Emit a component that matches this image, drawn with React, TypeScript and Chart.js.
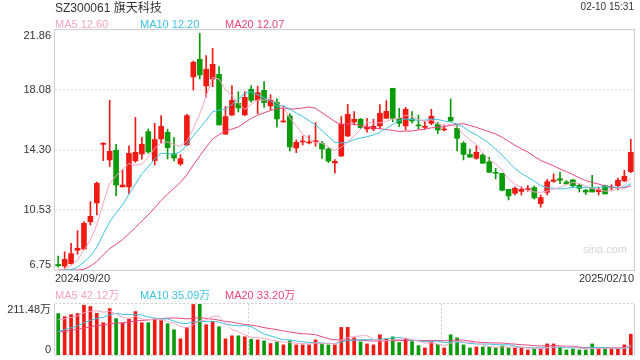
import React, { useEffect, useRef } from "react";
import { Chart, registerables } from "chart.js";

Chart.register(...registerables);

// ---------- data ----------
const dates = [
  "2024/09/20", "2024/09/23", "2024/09/24", "2024/09/25", "2024/09/26", "2024/09/27", "2024/09/30",
  "2024/10/08", "2024/10/09", "2024/10/10", "2024/10/11", "2024/10/14", "2024/10/15", "2024/10/16",
  "2024/10/17", "2024/10/18", "2024/10/21", "2024/10/22", "2024/10/23", "2024/10/24", "2024/10/25",
  "2024/10/28", "2024/10/29", "2024/10/30", "2024/10/31",
  "2024/11/01", "2024/11/04", "2024/11/05", "2024/11/06", "2024/11/07", "2024/11/08", "2024/11/11",
  "2024/11/12", "2024/11/13", "2024/11/14", "2024/11/15", "2024/11/18", "2024/11/19", "2024/11/20",
  "2024/11/21", "2024/11/22", "2024/11/25", "2024/11/26", "2024/11/27", "2024/11/28", "2024/11/29",
  "2024/12/02", "2024/12/03", "2024/12/04", "2024/12/05", "2024/12/06", "2024/12/09", "2024/12/10",
  "2024/12/11", "2024/12/12", "2024/12/13", "2024/12/16", "2024/12/17", "2024/12/18", "2024/12/19",
  "2024/12/20", "2024/12/23", "2024/12/24", "2024/12/25", "2024/12/26", "2024/12/27", "2024/12/30",
  "2024/12/31",
  "2025/01/02", "2025/01/03", "2025/01/06", "2025/01/07", "2025/01/08", "2025/01/09", "2025/01/10",
  "2025/01/13", "2025/01/14", "2025/01/15", "2025/01/16", "2025/01/17", "2025/01/20", "2025/01/21",
  "2025/01/22", "2025/01/23", "2025/01/24", "2025/01/27",
  "2025/02/05", "2025/02/06", "2025/02/07", "2025/02/10",
];

const opens = [
  7.10, 7.00, 7.15, 7.99, 8.07, 9.78, 10.97, 14.66, 13.68, 14.29,
  11.98, 11.98, 13.62, 14.05, 15.46, 13.64, 15.00, 15.42, 14.08, 13.43,
  14.62, 18.90, 20.02, 18.34, 18.78, 19.07, 15.31, 16.51, 17.25, 16.51,
  18.13, 17.45, 18.06, 17.08, 17.31, 16.07, 16.45, 14.43, 14.81, 14.75,
  14.81, 14.73, 14.37, 13.49, 13.93, 15.19, 16.07, 16.24, 15.63, 15.63,
  15.82, 16.30, 18.19, 16.30, 15.82, 16.26, 15.86, 15.73, 15.99, 15.94,
  15.57, 16.36, 15.67, 14.73, 14.03, 13.78, 13.99, 13.57, 12.90, 12.84,
  11.83, 11.58, 11.70, 11.81, 11.94, 10.93, 11.64, 12.33, 12.50, 12.29,
  12.42, 12.08, 11.77, 11.89, 11.68, 12.06, 11.92, 12.06, 12.36, 12.94,
];
const highs = [
  7.63, 7.89, 8.43, 9.23, 9.80, 11.05, 12.29, 14.77, 17.43, 14.66,
  13.05, 14.56, 16.36, 15.10, 15.63, 15.99, 16.47, 15.61, 15.08, 14.01,
  16.55, 19.91, 21.65, 20.25, 20.71, 19.55, 17.04, 18.36, 17.98, 17.98,
  18.36, 18.32, 18.61, 17.79, 17.52, 17.06, 16.59, 14.94, 15.19, 15.21,
  16.03, 14.85, 14.45, 13.70, 16.41, 17.18, 16.72, 16.30, 16.30, 16.24,
  17.16, 17.41, 18.19, 16.93, 16.99, 16.72, 16.51, 16.09, 16.87, 16.05,
  15.88, 17.52, 15.84, 14.83, 14.37, 14.58, 14.08, 13.85, 13.15, 12.84,
  11.83, 11.98, 11.98, 12.06, 12.04, 11.47, 12.46, 12.80, 12.92, 12.38,
  12.46, 12.17, 11.83, 12.71, 11.94, 12.10, 12.12, 12.54, 13.03, 14.98,
];
const lows = [
  6.93, 6.86, 7.11, 7.74, 8.03, 9.59, 10.22, 13.64, 13.26, 11.43,
  11.98, 11.54, 13.53, 13.72, 14.10, 13.36, 14.73, 13.74, 13.62, 13.34,
  14.58, 18.08, 18.78, 17.64, 18.29, 15.88, 15.27, 16.47, 16.70, 16.47,
  17.31, 16.59, 16.99, 16.83, 15.75, 16.05, 14.24, 14.14, 14.62, 14.68,
  14.54, 13.78, 13.51, 12.84, 13.89, 15.15, 15.88, 15.67, 15.42, 15.52,
  15.63, 16.30, 16.09, 15.78, 15.57, 15.99, 15.63, 15.61, 15.90, 15.34,
  15.50, 16.09, 14.24, 13.68, 13.85, 13.72, 13.47, 12.90, 12.48, 11.73,
  11.16, 11.47, 11.47, 11.70, 11.22, 10.70, 11.47, 12.27, 12.19, 12.17,
  11.94, 11.66, 11.50, 11.66, 11.47, 11.54, 11.79, 11.81, 12.31, 12.88,
];
const closes = [
  7.02, 7.42, 7.78, 8.12, 9.69, 10.13, 12.21, 14.73, 14.22, 12.10,
  12.10, 14.10, 14.16, 14.66, 14.18, 14.96, 15.80, 14.45, 13.80, 13.76,
  16.47, 19.83, 19.03, 19.39, 19.70, 15.88, 16.41, 17.43, 16.95, 17.62,
  17.43, 17.92, 17.29, 17.43, 16.26, 16.11, 14.50, 14.79, 14.87, 14.79,
  14.89, 14.37, 13.61, 13.59, 15.94, 16.55, 16.24, 15.71, 15.75, 15.80,
  16.62, 16.74, 16.30, 15.99, 16.87, 16.13, 15.82, 15.80, 16.43, 15.57,
  15.63, 16.15, 15.04, 14.03, 13.85, 14.16, 13.47, 12.90, 12.84, 11.77,
  11.41, 11.89, 11.83, 11.87, 11.29, 11.31, 12.31, 12.42, 12.40, 12.17,
  12.06, 11.89, 11.66, 11.66, 11.81, 11.54, 11.98, 12.40, 12.65, 14.16,
];

const ma5 = [
  6.75, 6.79, 7.04, 7.37, 8.01, 8.63, 9.59, 10.98, 12.20, 12.68,
  13.07, 13.45, 13.34, 13.42, 13.84, 14.41, 14.75, 14.81, 14.64, 14.55,
  14.86, 15.66, 16.58, 17.70, 18.88, 18.77, 18.08, 17.76, 17.27, 16.86,
  17.17, 17.47, 17.44, 17.54, 17.27, 17.00, 16.32, 15.82, 15.31, 15.01,
  14.77, 14.74, 14.51, 14.25, 14.48, 14.81, 15.19, 15.61, 16.04, 16.01,
  16.02, 16.12, 16.24, 16.29, 16.50, 16.41, 16.22, 16.12, 16.21, 15.95,
  15.85, 15.92, 15.76, 15.28, 14.94, 14.65, 14.11, 13.68, 13.44, 13.03,
  12.48, 12.16, 11.95, 11.75, 11.66, 11.64, 11.72, 11.84, 11.95, 12.12,
  12.27, 12.19, 12.04, 11.89, 11.82, 11.71, 11.73, 11.88, 12.08, 12.55,
];
const ma10 = [
  6.75, 6.75, 6.77, 6.93, 7.25, 7.62, 8.19, 9.01, 9.78, 10.34,
  10.85, 11.52, 12.16, 12.81, 13.26, 13.74, 14.10, 14.07, 14.03, 14.20,
  14.63, 15.21, 15.69, 16.17, 16.72, 16.81, 16.87, 17.17, 17.49, 17.87,
  17.97, 17.78, 17.60, 17.41, 17.06, 17.09, 16.89, 16.63, 16.42, 16.14,
  15.89, 15.53, 15.16, 14.78, 14.75, 14.79, 14.96, 15.06, 15.14, 15.25,
  15.42, 15.66, 15.92, 16.16, 16.26, 16.22, 16.17, 16.18, 16.25, 16.23,
  16.13, 16.07, 15.94, 15.75, 15.45, 15.25, 15.01, 14.72, 14.36, 13.98,
  13.56, 13.14, 12.82, 12.60, 12.34, 12.06, 11.94, 11.89, 11.85, 11.89,
  11.96, 11.96, 11.94, 11.92, 11.97, 11.99, 11.96, 11.96, 11.98, 12.18,
];
const ma20 = [
  6.75, 6.75, 6.75, 6.75, 6.80, 6.99, 7.28, 7.70, 8.09, 8.37,
  8.66, 9.04, 9.43, 9.84, 10.23, 10.66, 11.13, 11.53, 11.90, 12.27,
  12.74, 13.36, 13.93, 14.49, 14.99, 15.28, 15.49, 15.62, 15.76, 16.03,
  16.30, 16.49, 16.65, 16.79, 16.89, 16.95, 16.88, 16.90, 16.95, 17.01,
  16.93, 16.65, 16.38, 16.09, 15.90, 15.94, 15.93, 15.84, 15.78, 15.69,
  15.65, 15.59, 15.54, 15.47, 15.50, 15.50, 15.57, 15.62, 15.70, 15.74,
  15.77, 15.86, 15.93, 15.96, 15.85, 15.73, 15.59, 15.45, 15.31, 15.11,
  14.85, 14.60, 14.38, 14.17, 13.89, 13.65, 13.48, 13.31, 13.11, 12.94,
  12.76, 12.55, 12.38, 12.26, 12.16, 12.03, 11.95, 11.93, 11.92, 12.04,
];

// volume in 万
const volumes = [
  171.7, 159, 167.5, 171.7, 206.6, 201, 173, 134, 192.6, 150.8,
  131, 148, 180, 134, 134, 149.4, 142.4, 129.8, 104.7, 67,
  114.5, 209.4, 211.48, 125.6, 139.6, 117.3, 67, 79.6, 79.6, 75.4,
  65.6, 62.8, 58.6, 47.5, 54.4, 41.9, 58.6, 41.9, 41.9, 41.9,
  62.8, 46, 41.9, 41.9, 114.5, 114.5, 71.2, 54.4, 46, 41.9,
  83.8, 67, 75.4, 51.6, 69.8, 55.8, 39, 29.3, 54.4, 44.7,
  29.3, 83.8, 71.2, 41.9, 29.3, 33.5, 33.5, 33.5, 29.3, 37.7,
  29.3, 29.3, 29.3, 20.9, 25.1, 25.1, 46, 46, 33.5, 20.9,
  25.1, 20.9, 20.9, 46, 25.1, 25.1, 25.1, 25.1, 41.9, 86.5,
];
const volMa5 = [
  146, 150, 155.6, 162, 175.3, 181.2, 184.0, 177.3, 181.4, 170.3,
  156.3, 151.3, 160.5, 148.8, 145.4, 149.1, 148.0, 137.9, 132.1, 118.7,
  111.7, 125.1, 141.4, 145.6, 160.1, 160.7, 132.2, 105.8, 96.6, 83.8,
  73.4, 72.6, 68.4, 62.0, 57.8, 53.0, 52.2, 48.9, 47.7, 45.2,
  49.4, 46.9, 46.9, 46.9, 61.4, 71.8, 76.8, 79.3, 80.1, 65.6,
  59.5, 58.6, 62.8, 63.9, 69.5, 63.9, 58.3, 49.1, 49.7, 44.6,
  39.3, 48.3, 56.7, 54.2, 51.1, 51.9, 41.9, 34.3, 31.8, 33.5,
  32.7, 31.8, 31.0, 29.3, 26.8, 25.9, 29.3, 32.6, 35.1, 34.3,
  34.3, 29.3, 24.3, 26.8, 27.6, 27.6, 28.4, 29.3, 28.5, 40.7,
];
const volMa10 = [
  97.7, 105, 112.8, 121, 132.7, 143.8, 152, 156.5, 166.7, 172.8,
  168.7, 167.6, 168.9, 165.1, 157.8, 152.7, 149.6, 149.2, 140.4, 132.0,
  130.4, 136.5, 139.7, 138.8, 139.4, 136.2, 128.6, 123.6, 121.1, 121.9,
  117.1, 102.4, 87.1, 79.3, 70.8, 63.2, 62.4, 58.6, 54.9, 51.5,
  51.2, 49.6, 47.9, 47.3, 53.3, 60.6, 61.9, 63.1, 63.5, 63.5,
  65.6, 67.7, 71.1, 72.0, 67.6, 61.7, 58.5, 56.0, 56.8, 57.1,
  51.6, 53.3, 52.9, 51.9, 47.9, 45.6, 45.1, 45.5, 43.0, 42.3,
  42.3, 36.9, 32.7, 30.6, 30.1, 29.3, 30.6, 31.8, 32.2, 30.5,
  30.1, 29.3, 28.4, 31.0, 31.0, 31.0, 28.9, 26.8, 27.6, 34.2,
];
const volMa20 = [
  95.0, 98.4, 102.3, 106.3, 112.1, 117.6, 121.7, 123.8, 128.9, 131.9,
  133.9, 136.7, 141.2, 143.3, 145.5, 148.4, 151.0, 152.9, 153.6, 152.4,
  149.6, 152.1, 154.3, 152.0, 148.6, 144.4, 139.1, 136.4, 130.8, 127.0,
  123.7, 119.5, 113.4, 109.1, 105.1, 99.7, 95.5, 91.1, 88.0, 86.7,
  84.1, 76.0, 67.5, 63.3, 62.1, 61.9, 62.1, 60.9, 59.2, 57.5,
  58.4, 58.6, 59.5, 59.7, 60.4, 61.1, 60.2, 59.5, 60.2, 60.3,
  58.6, 60.5, 62.0, 62.0, 57.7, 53.7, 51.8, 50.7, 49.9, 49.7,
  47.0, 45.1, 42.8, 41.2, 39.0, 37.5, 37.8, 38.7, 37.6, 36.4,
  36.2, 33.1, 30.6, 30.8, 30.5, 30.1, 29.7, 29.3, 29.9, 32.3,
];

const priceTicks = [6.75, 10.53, 14.3, 18.08, 21.86];
const volTicks = [0, 211.48];
const priceMaLegend = [12.6, 12.2, 12.07];
const volMaLegend = [42.12, 35.09, 33.2];
const title = "SZ300061 旗天科技";
const timeStamp = "02-10 15:31";

// ---------- styles ----------
const RED = "#f01a14";
const GREEN = "#0a9b0a";
const C5 = "#f7a3c4";
const C10 = "#3cc3e4";
const C20 = "#e8467f";
const FAMILY = '"Liberation Sans", Arial, "Noto Sans CJK SC", sans-serif';
const FONT = `11px ${FAMILY}`;

const candleColors = closes.map((c, i) => (c >= opens[i] ? RED : GREEN));

const maLine = (label: string, data: number[], color: string) => ({
  type: "line" as const,
  label,
  data,
  borderColor: color,
  backgroundColor: color,
  borderWidth: 1,
  pointRadius: 0,
  tension: 0,
  order: 0,
});

const priceFrame = {
  id: "priceFrame",
  beforeDatasetsDraw(chart: any) {
    const { ctx, chartArea: a, scales } = chart;
    const y = scales.y;
    ctx.save();
    ctx.lineWidth = 1;
    ctx.strokeStyle = "#d9d9d9";
    ctx.setLineDash([2, 2]);
    priceTicks.slice(1, -1).forEach((v) => {
      const py = Math.round(y.getPixelForValue(v));
      ctx.beginPath();
      ctx.moveTo(a.left, py);
      ctx.lineTo(a.right, py);
      ctx.stroke();
    });
    ctx.setLineDash([]);
    ctx.strokeStyle = "#cfcfcf";
    ctx.strokeRect(a.left - 0.5, a.top - 0.5, a.right - a.left + 1, a.bottom - a.top + 1);
    ctx.fillStyle = "#333";
    ctx.font = FONT;
    ctx.textAlign = "right";
    priceTicks.forEach((v, i) => {
      const py = y.getPixelForValue(v);
      ctx.textBaseline = i === priceTicks.length - 1 ? "top" : i === 0 ? "bottom" : "middle";
      ctx.fillText(v.toFixed(2), 51, py);
    });
    ctx.textBaseline = "middle";
    ctx.textAlign = "left";
    ctx.fillText(dates[0], a.left, 278.5);
    ctx.textAlign = "right";
    ctx.fillText(dates[dates.length - 1], a.right, 278.5);
    ctx.restore();
  },
};

const volFrame = {
  id: "volFrame",
  beforeDatasetsDraw(chart: any) {
    const { ctx, chartArea: a, scales } = chart;
    const y = scales.y;
    ctx.save();
    ctx.lineWidth = 1;
    ctx.strokeStyle = "#cfcfcf";
    ctx.beginPath();
    ctx.moveTo(a.left - 0.5, a.top);
    ctx.lineTo(a.left - 0.5, a.bottom);
    ctx.moveTo(a.right + 0.5, a.top);
    ctx.lineTo(a.right + 0.5, a.bottom);
    ctx.stroke();
    ctx.setLineDash([2, 2]);
    ctx.strokeStyle = "#d0d0d0";
    ctx.beginPath();
    ctx.moveTo(a.left, a.top - 0.5);
    ctx.lineTo(a.right, a.top - 0.5);
    ctx.moveTo(a.left, a.bottom + 0.5);
    ctx.lineTo(a.right, a.bottom + 0.5);
    [1, 2].forEach((k) => {
      const px = Math.round(a.left + ((a.right - a.left) * k) / 3) + 0.5;
      ctx.moveTo(px, a.top);
      ctx.lineTo(px, a.bottom);
    });
    ctx.stroke();
    ctx.setLineDash([]);
    ctx.fillStyle = "#333";
    ctx.font = FONT;
    ctx.textAlign = "right";
    volTicks.forEach((v, i) => {
      const py = y.getPixelForValue(v);
      ctx.textBaseline = i === 0 ? "bottom" : "top";
      ctx.fillText(v === 0 ? "0" : `${v.toFixed(2)}万`, 51, py);
    });
    ctx.restore();
  },
};

function makePriceConfig(): any {
  return {
    type: "bar",
    data: {
      labels: dates,
      datasets: [
        maLine("MA5", ma5, C5),
        maLine("MA10", ma10, C10),
        maLine("MA20", ma20, C20),
        {
          type: "bar",
          label: "body",
          data: opens.map((o, i) => [o, closes[i]]),
          backgroundColor: candleColors,
          borderWidth: 0,
          barThickness: 5,
          minBarLength: 1,
          grouped: false,
          order: 1,
        },
        {
          type: "bar",
          label: "wick",
          data: lows.map((l, i) => [l, highs[i]]),
          backgroundColor: candleColors,
          borderWidth: 0,
          barThickness: 1,
          grouped: false,
          order: 2,
        },
      ],
    },
    options: {
      responsive: false,
      animation: false,
      layout: { padding: { left: 55, right: 6, top: 30, bottom: 20 } },
      plugins: { legend: { display: false }, tooltip: { enabled: false } },
      scales: {
        x: { display: false, offset: true },
        y: { display: false, min: priceTicks[0], max: priceTicks[priceTicks.length - 1] },
      },
    },
    plugins: [priceFrame],
  };
}

function makeVolConfig(): any {
  return {
    type: "bar",
    data: {
      labels: dates,
      datasets: [
        maLine("MA5", volMa5, C5),
        maLine("MA10", volMa10, C10),
        maLine("MA20", volMa20, C20),
        {
          type: "bar",
          label: "volume",
          data: volumes,
          backgroundColor: candleColors,
          borderWidth: 0,
          barThickness: 3,
          grouped: false,
          order: 1,
        },
      ],
    },
    options: {
      responsive: false,
      animation: false,
      layout: { padding: { left: 55, right: 6, top: 14, bottom: 5 } },
      plugins: { legend: { display: false }, tooltip: { enabled: false } },
      scales: {
        x: { display: false, offset: true },
        y: { display: false, min: volTicks[0], max: volTicks[1] },
      },
    },
    plugins: [volFrame],
  };
}

const txt = (left: number, top: number, size: number, color: string): React.CSSProperties => ({
  position: "absolute",
  left,
  top,
  fontSize: size,
  lineHeight: `${size}px`,
  color,
  whiteSpace: "nowrap",
});

export default function App() {
  const pRef = useRef<HTMLCanvasElement>(null);
  const vRef = useRef<HTMLCanvasElement>(null);

  useEffect(() => {
    const pc = new Chart(pRef.current as HTMLCanvasElement, makePriceConfig());
    const vc = new Chart(vRef.current as HTMLCanvasElement, makeVolConfig());
    return () => {
      pc.destroy();
      vc.destroy();
    };
  }, []);

  return (
    <div
      style={{
        position: "absolute",
        left: 0,
        top: 0,
        width: 640,
        height: 360,
        background: "#fff",
        fontFamily: FAMILY,
        overflow: "hidden",
      }}
    >
      <canvas ref={pRef} width={640} height={290} style={{ position: "absolute", left: 0, top: 0, width: 640, height: 290 }} />
      <canvas ref={vRef} width={640} height={70} style={{ position: "absolute", left: 0, top: 290, width: 640, height: 70 }} />
      <div style={txt(55, 1.5, 12, "#333")}>{title}</div>
      <div style={{ ...txt(0, 2, 10, "#333"), left: "auto", right: 6 }}>{timeStamp}</div>
      <div style={txt(55, 18.5, 11, C5)}>{`MA5 ${priceMaLegend[0].toFixed(2)}`}</div>
      <div style={txt(140, 18.5, 11, C10)}>{`MA10 ${priceMaLegend[1].toFixed(2)}`}</div>
      <div style={txt(225, 18.5, 11, C20)}>{`MA20 ${priceMaLegend[2].toFixed(2)}`}</div>
      <div style={txt(55, 290.2, 11, C5)}>{`MA5 ${volMaLegend[0].toFixed(2)}万`}</div>
      <div style={txt(140, 290.2, 11, C10)}>{`MA10 ${volMaLegend[1].toFixed(2)}万`}</div>
      <div style={txt(225, 290.2, 11, C20)}>{`MA20 ${volMaLegend[2].toFixed(2)}万`}</div>
      <div style={txt(583, 244, 11, "#d4d4d4")}>sina.com</div>
    </div>
  );
}
